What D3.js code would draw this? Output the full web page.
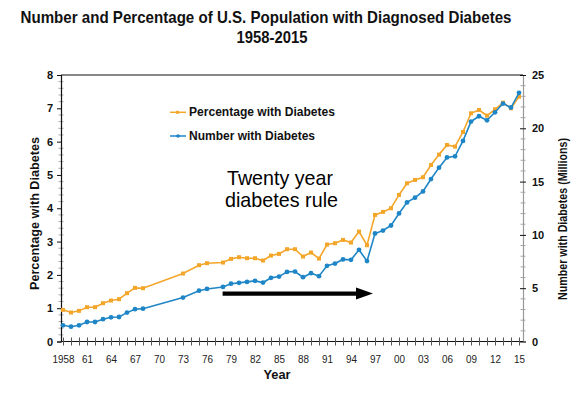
<!DOCTYPE html>
<html>
<head>
<meta charset="utf-8">
<script src="https://cdn.jsdelivr.net/npm/d3@7"></script>
<style>
  html, body { margin: 0; padding: 0; background: #fff; }
  svg { display: block; font-family: "Liberation Sans", Arial, sans-serif; }
</style>
</head>
<body>
<svg id="chart" width="588" height="394"></svg>
<script>
// ---------------- DATA ----------------
const years = [1958,1959,1960,1961,1962,1963,1964,1965,1966,1967,1968,
  1973,1975,1976,1978,1979,1980,1981,1982,1983,1984,1985,1986,1987,1988,1989,
  1990,1991,1992,1993,1994,1995,1996,1997,1998,1999,2000,2001,2002,2003,2004,
  2005,2006,2007,2008,2009,2010,2011,2012,2013,2014,2015];
const percentWithDiabetes = [0.95,0.87,0.92,1.03,1.03,1.15,1.23,1.27,1.45,1.61,1.60,
  2.04,2.29,2.35,2.37,2.48,2.53,2.50,2.50,2.43,2.58,2.63,2.77,2.77,2.55,2.67,
  2.49,2.91,2.95,3.05,2.97,3.30,2.89,3.80,3.89,4.00,4.40,4.75,4.85,4.93,5.30,
  5.61,5.90,5.85,6.29,6.85,6.95,6.78,6.97,7.17,7.00,7.35];
const numberWithDiabetes = [1.52,1.39,1.52,1.83,1.83,2.09,2.27,2.30,2.71,3.03,3.08,
  4.12,4.77,4.93,5.12,5.42,5.50,5.59,5.69,5.53,5.97,6.09,6.53,6.56,6.03,6.41,
  6.13,7.10,7.31,7.70,7.66,8.60,7.54,10.13,10.41,10.88,12.01,13.05,13.49,14.08,15.24,
  16.31,17.27,17.37,18.82,20.63,21.13,20.75,21.50,22.32,21.95,23.33];
const leftTicks = [0,1,2,3,4,5,6,7,8];
const rightTicks = [0,5,10,15,20,25];
const xLabelYears = d3.range(1958, 2016, 3);
const seriesNames = ["Percentage with Diabetes", "Number with Diabetes"];
const titleLines = ["Number and Percentage of U.S. Population with Diagnosed Diabetes", "1958-2015"];
const annotationLines = ["Twenty year", "diabetes rule"];
const arrowYears = [1977.95, 1996.75];
const arrowLevel = 4.5; // in millions scale

// ---------------- SETUP ----------------
const svg = d3.select("#chart");
const orange = "#F4A62A", blue = "#1E86C6";
const x = d3.scaleLinear().domain([1957.75, 2015.5]).range([61, 523]);
const yL = d3.scaleLinear().domain([0, 8]).range([341.5, 75]);
const yR = d3.scaleLinear().domain([0, 25]).range([341.5, 75]);

function squish(sel, k) {
  sel.each(function() {
    const w = this.getComputedTextLength();
    d3.select(this).attr("textLength", w * k).attr("lengthAdjust", "spacingAndGlyphs");
  });
}
function fixLen(sel, len) {
  sel.attr("textLength", len).attr("lengthAdjust", "spacingAndGlyphs");
}
function scaledText(parent, cx, cy, str, size, weight, len) {
  const g = parent.append("g").attr("transform", `translate(${cx},${cy})`);
  const t = g.append("text").attr("x", 0).attr("y", 0).attr("text-anchor", "middle")
    .attr("font-size", size).attr("font-weight", weight).attr("fill", "#111").text(str);
  const w = t.node().getComputedTextLength();
  g.attr("transform", `translate(${cx},${cy}) scale(${len / w},1)`);
  return t;
}

// ---------------- TITLE ----------------
scaledText(svg, 266, 22.5, titleLines[0], 17, "bold", 491);
scaledText(svg, 272, 42.5, titleLines[1], 17, "bold", 71);

// ---------------- AXES ----------------
const leftMinor = d3.range(0, 8.0001, 0.2).filter(v => Math.abs(v - Math.round(v)) > 1e-6);
svg.append("g").selectAll("line").data(leftMinor).join("line")
  .attr("x1", 58.5).attr("x2", 63.5)
  .attr("y1", d => yL(d)).attr("y2", d => yL(d))
  .attr("stroke", "#aaa").attr("stroke-width", 1);
const rightMinor = d3.range(0, 26, 1).filter(v => v % 5 !== 0);
svg.append("g").selectAll("line").data(rightMinor).join("line")
  .attr("x1", 520.5).attr("x2", 525.5)
  .attr("y1", d => yR(d)).attr("y2", d => yR(d))
  .attr("stroke", "#aaa").attr("stroke-width", 1);

const leftAxis = d3.axisLeft(yL).tickValues(leftTicks).tickSize(4).tickPadding(4).tickFormat(d3.format("d"));
const gL = svg.append("g").attr("transform", "translate(61,0)").call(leftAxis);
gL.select(".domain").attr("stroke", "#111").attr("stroke-width", 1.2);
gL.selectAll(".tick line").attr("stroke", "#111");
gL.selectAll(".tick text").attr("font-size", 11).attr("font-weight", "bold")
  .attr("font-family", "Liberation Sans, Arial, sans-serif").attr("fill", "#111");

const rightAxis = d3.axisRight(yR).tickValues(rightTicks).tickSize(3).tickPadding(6).tickFormat(d3.format("d"));
const gR = svg.append("g").attr("transform", "translate(523,0)").call(rightAxis);
gR.select(".domain").attr("stroke", "#999").attr("stroke-width", 1.2);
gR.selectAll(".tick line").attr("stroke", "#111").attr("x1", -3);
gR.selectAll(".tick text").attr("font-size", 11).attr("font-weight", "bold")
  .attr("font-family", "Liberation Sans, Arial, sans-serif").attr("fill", "#111");

const yearTicks = d3.range(1958, 2016, 1);
const bottomAxis = d3.axisBottom(x).tickValues(yearTicks).tickSize(4).tickPadding(9)
  .tickFormat(d => xLabelYears.includes(d) ? (d === 1958 ? "1958" : String(d % 100).padStart(2, "0")) : "");
const gB = svg.append("g").attr("transform", `translate(0,${yL(0)})`).call(bottomAxis);
gB.select(".domain").attr("stroke", "#111").attr("stroke-width", 1.2).attr("d", `M61,0H523`);
gB.selectAll(".tick line").attr("stroke", "#555").attr("y1", -4);
gB.selectAll(".tick text").attr("font-size", 11.5)
  .attr("font-family", "Liberation Sans, Arial, sans-serif").attr("fill", "#222")
  .call(squish, 0.86);

svg.append("line").attr("x1", 61).attr("x2", 523).attr("y1", yL(8)).attr("y2", yL(8))
  .attr("stroke", "#111").attr("stroke-width", 1.2);

// axis titles
svg.append("text").attr("transform", `translate(38.5,${(137 + 290) / 2}) rotate(-90)`)
  .attr("text-anchor", "middle").attr("font-size", 13).attr("font-weight", "bold").attr("fill", "#111")
  .text("Percentage with Diabetes").call(fixLen, 153);
svg.append("text").attr("transform", `translate(566.5,${(138 + 300) / 2}) rotate(-90)`)
  .attr("text-anchor", "middle").attr("font-size", 13).attr("font-weight", "bold").attr("fill", "#111")
  .text("Number with Diabetes (Millions)").call(fixLen, 162);
svg.append("text").attr("x", 277).attr("y", 379).attr("text-anchor", "middle")
  .attr("font-size", 13).attr("font-weight", "bold").attr("fill", "#111")
  .text("Year").call(fixLen, 27);

// ---------------- SERIES ----------------
const pctData = years.map((yr, i) => ({ yr, v: percentWithDiabetes[i] }));
const numData = years.map((yr, i) => ({ yr, v: numberWithDiabetes[i] }));

const linePct = d3.line().x(d => x(d.yr)).y(d => yL(d.v));
const lineNum = d3.line().x(d => x(d.yr)).y(d => yR(d.v));

svg.append("path").datum(pctData).attr("d", linePct)
  .attr("fill", "none").attr("stroke", orange).attr("stroke-width", 1.6);
svg.append("g").selectAll("rect").data(pctData).join("rect")
  .attr("x", d => x(d.yr) - 2).attr("y", d => yL(d.v) - 2)
  .attr("width", 4).attr("height", 4).attr("fill", orange);

svg.append("path").datum(numData).attr("d", lineNum)
  .attr("fill", "none").attr("stroke", blue).attr("stroke-width", 1.6);
svg.append("g").selectAll("circle").data(numData).join("circle")
  .attr("cx", d => x(d.yr)).attr("cy", d => yR(d.v)).attr("r", 2.4).attr("fill", blue);

// ---------------- LEGEND ----------------
const legend = svg.append("g");
const legendItems = [
  { name: seriesNames[0], color: orange, y: 112.3, shape: "rect", len: 146 },
  { name: seriesNames[1], color: blue, y: 136, shape: "circle", len: 126 }
];
legendItems.forEach(it => {
  legend.append("line").attr("x1", 170).attr("x2", 186).attr("y1", it.y).attr("y2", it.y)
    .attr("stroke", it.color).attr("stroke-width", 1.5);
  if (it.shape === "rect") {
    legend.append("rect").attr("x", 176).attr("y", it.y - 1.5).attr("width", 3).attr("height", 3).attr("fill", it.color);
  } else {
    legend.append("circle").attr("cx", 178).attr("cy", it.y).attr("r", 1.8).attr("fill", it.color);
  }
  legend.append("text").attr("x", 189).attr("y", it.y + 4).attr("font-size", 12).attr("font-weight", "bold")
    .attr("fill", "#111").text(it.name).call(fixLen, it.len);
});

// ---------------- ANNOTATION ----------------
svg.append("text").attr("x", 280).attr("y", 185).attr("text-anchor", "middle")
  .attr("font-size", 21).attr("fill", "#000").text(annotationLines[0]).call(fixLen, 106);
svg.append("text").attr("x", 281.5).attr("y", 207).attr("text-anchor", "middle")
  .attr("font-size", 21).attr("fill", "#000").text(annotationLines[1]).call(fixLen, 113);

const ax0 = x(arrowYears[0]), ax1 = x(arrowYears[1]), ay = yR(arrowLevel);
svg.append("line").attr("x1", ax0).attr("x2", ax1 - 15).attr("y1", ay).attr("y2", ay)
  .attr("stroke", "#000").attr("stroke-width", 4.2);
svg.append("path")
  .attr("d", `M${ax1},${ay} L${ax1 - 17},${ay - 6} L${ax1 - 17},${ay + 6} Z`)
  .attr("fill", "#000");
</script>
</body>
</html>
